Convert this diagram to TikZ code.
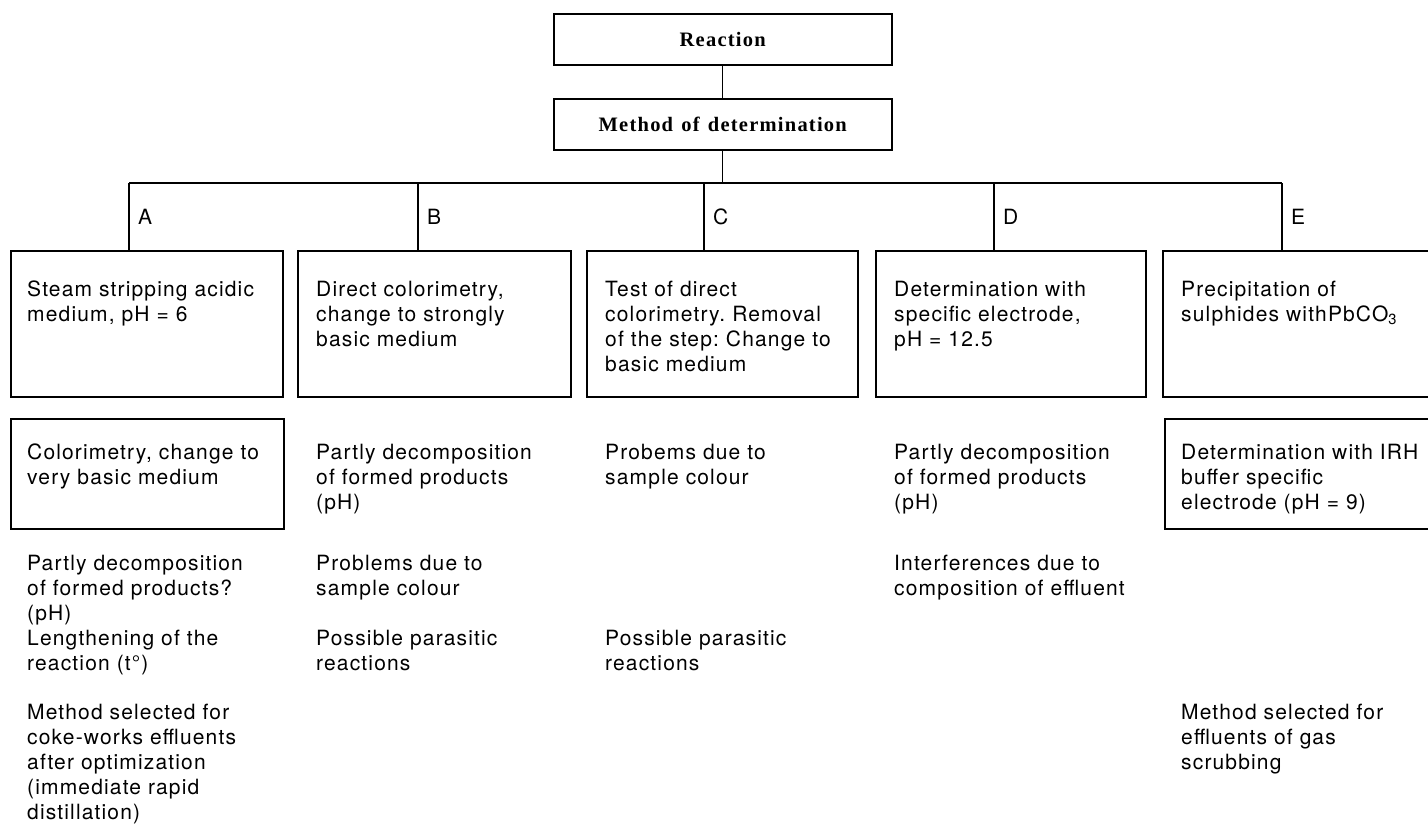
\documentclass[tikz,border=0pt]{standalone}
\usepackage{fontspec}
\setmainfont{TeX Gyre Heros}[WordSpace=2.0, LetterSpace=5.5]
\newfontfamily\titlefont{Liberation Serif}[WordSpace=1.3, LetterSpace=6]
\begin{document}
\frenchspacing
\begin{tikzpicture}[x=1pt,y=-1pt]
\tikzset{
  box/.style={draw, line width=1.5pt, inner sep=0pt, anchor=north west},
  title/.style={draw, line width=1.5pt, inner sep=0pt, anchor=north west,
     minimum width=338pt, minimum height=51pt,
     font=\titlefont\bfseries\fontsize{20.5}{24}\selectfont},
  txt/.style={anchor=base west, inner sep=0pt, align=left, text width=300pt,
     font=\fontsize{21}{25}\selectfont},
  link/.style={line width=1.2pt},
}
\useasboundingbox (0,0) rectangle (1428,823);

% top boxes
\node[title] (rx) at (553,13) {Reaction};
\node[title] (md) at (553,98) {Method of determination};

% bus coordinates
\coordinate (busA) at (129,183);
\coordinate (busB) at (418,183);
\coordinate (busC) at (704,183);
\coordinate (busD) at (994,183);
\coordinate (busE) at (1282,183);

% first-row boxes
\node[box, minimum width=272pt, minimum height=146pt] (bA) at (10,250) {};
\node[box, minimum width=273pt, minimum height=146pt] (bB) at (297,250) {};
\node[box, minimum width=271pt, minimum height=146pt] (bC) at (586,250) {};
\node[box, minimum width=270pt, minimum height=146pt] (bD) at (875,250) {};
\node[box, minimum width=290pt, minimum height=146pt] (bE) at (1162,250) {};

% second-row boxes
\node[box, minimum width=273pt, minimum height=110pt] (cA) at (10,418) {};
\node[box, minimum width=290pt, minimum height=110pt] (cE) at (1164,418) {};

% connectors
\draw[link] (rx.south) -- (md.north);
\draw[link] (md.south) -- (md.south |- busA);
\draw[link] (busA) -- (busE);
\draw[link] (busA) -- (busA |- bA.north);
\draw[link] (busB) -- (busB |- bB.north);
\draw[link] (busC) -- (busC |- bC.north);
\draw[link] (busD) -- (busD |- bD.north);
\draw[link] (busE) -- (busE |- bE.north);

% branch letters
\node[txt] (lA) at (138,224) {A};
\node[txt] (lB) at (427,224) {B};
\node[txt] (lC) at (713,224) {C};
\node[txt] (lD) at (1003,224) {D};
\node[txt] (lE) at (1291,224) {E};

% first-row texts
\node[txt] (tA) at (27,296) {Steam stripping acidic\\medium, pH = 6};
\node[txt] (tB) at (316,296) {Direct colorimetry,\\change to strongly\\basic medium};
\node[txt] (tC) at (605,296) {Test of direct\\colorimetry. Removal\\of the step: Change to\\basic medium};
\node[txt] (tD) at (894,296) {Determination with\\specific electrode,\\pH = 12.5};
\node[txt] (tE) at (1181,296) {Precipitation of\\sulphides withPbCO\textsubscript{3}};

% column A
\node[txt] (uA) at (27,459) {Colorimetry, change to\\very basic medium};
\node[txt] (vA) at (27,570) {Partly decomposition\\of formed products?\\(pH)\\Lengthening of the\\reaction (t°)};
\node[txt] (wA) at (27,719) {Method selected for\\coke-works effluents\\after optimization\\(immediate rapid\\distillation)};

% column B
\node[txt] (uB) at (316,459) {Partly decomposition\\of formed products\\(pH)};
\node[txt] (vB) at (316,570) {Problems due to\\sample colour};
\node[txt] (wB) at (316,645) {Possible parasitic\\reactions};

% column C
\node[txt] (uC) at (605,459) {Probems due to\\sample colour};
\node[txt] (wC) at (605,645) {Possible parasitic\\reactions};

% column D
\node[txt] (uD) at (894,459) {Partly decomposition\\of formed products\\(pH)};
\node[txt] (vD) at (894,570) {Interferences due to\\composition of effluent};

% column E
\node[txt] (uE) at (1181,459) {Determination with IRH\\buffer specific\\electrode (pH = 9)};
\node[txt] (wE) at (1181,719) {Method selected for\\effluents of gas\\scrubbing};
\end{tikzpicture}
\end{document}
